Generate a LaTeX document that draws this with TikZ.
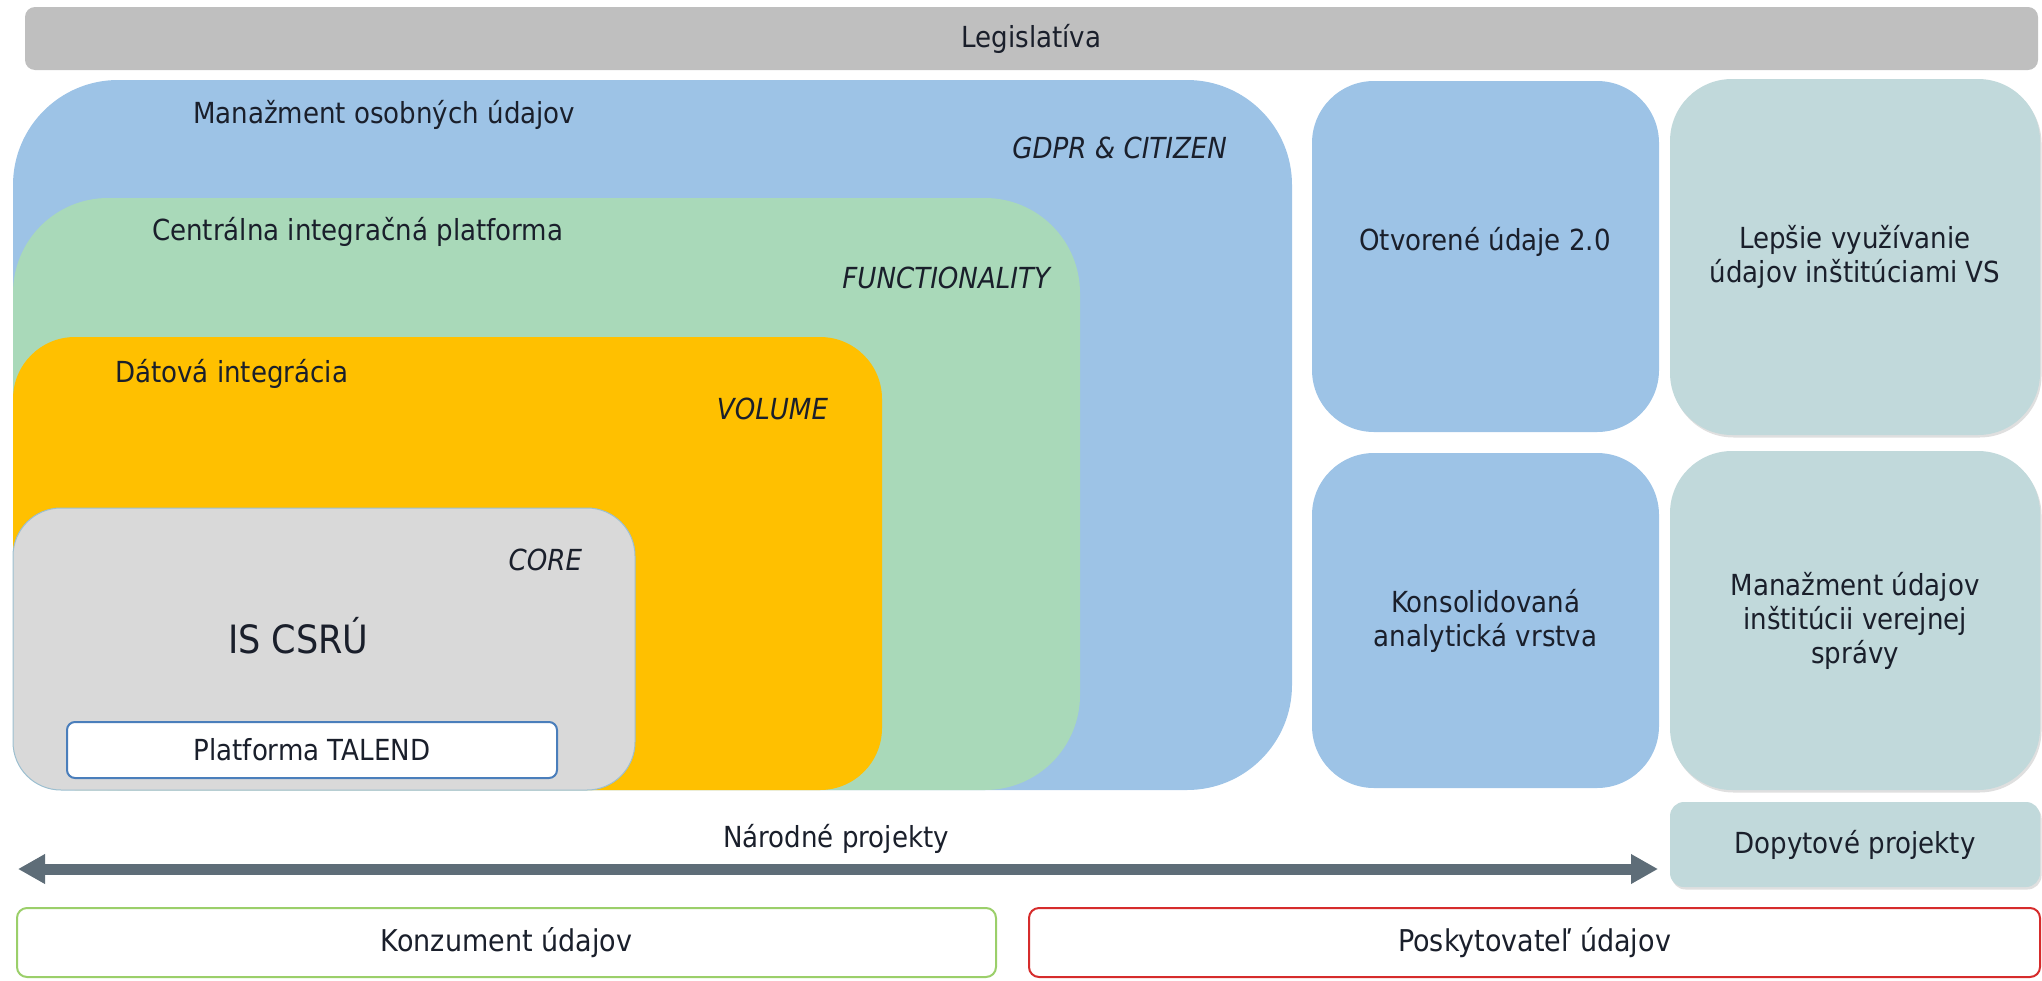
\documentclass[tikz,border=0pt]{standalone}
\usepackage{fontspec}
\setmainfont{DejaVu Sans}[FakeStretch=0.9]
\usepackage{tikz}
\definecolor{legisgray}{HTML}{BFBFBF}
\definecolor{layerblue}{HTML}{9DC3E6}
\definecolor{layergreen}{HTML}{A9D9B9}
\definecolor{layerorange}{HTML}{FFC000}
\definecolor{coregray}{HTML}{D9D9D9}
\definecolor{coreedge}{HTML}{9CBFD0}
\definecolor{talendblue}{HTML}{4A7EBB}
\definecolor{demandteal}{HTML}{C1D9DB}
\definecolor{arrowgray}{HTML}{5E6D78}
\definecolor{consgreen}{HTML}{9BCF6A}
\definecolor{provred}{HTML}{D62C2C}
\definecolor{textdark}{HTML}{1A1F2B}
\usetikzlibrary{arrows.meta, shadows}

\begin{document}
\begin{tikzpicture}[
  x=1pt, y=-1pt,
  every node/.style={inner sep=0pt, outer sep=0pt, text=textdark},
  lbl/.style={font=\fontsize{29}{34}\selectfont},
  title/.style={lbl, anchor=base west},
  tag/.style={font=\fontsize{29}{34}\selectfont\itshape, anchor=base east},
  layer/.style={rectangle, anchor=north west},
  tile/.style={layer, align=center, lbl},
  bluetile/.style={tile, fill=layerblue, rounded corners=62pt},
  tealtile/.style={tile, fill=demandteal, rounded corners=62pt,
    drop shadow={shadow xshift=1.5pt, shadow yshift=-2.5pt, opacity=0.25}},
  partner/.style={layer, fill=white, line width=2pt, rounded corners=10pt, font=\fontsize{30}{34}\selectfont},
  natarrow/.style={{Triangle[length=27pt,width=28pt]}-{Triangle[length=27pt,width=28pt]}, line width=11pt, draw=arrowgray},
]
\useasboundingbox (0,0) rectangle (2042,980);

% Top bar
\node[layer, fill=legisgray, rounded corners=10pt, minimum width=2013, minimum height=63, lbl] (legis) at (25,7) {Legislatíva};

% Nested layers of the national projects
\node[layer, fill=layerblue, rounded corners=105pt, minimum width=1279, minimum height=710] (osobne) at (13,80) {};
\node[layer, fill=layergreen, rounded corners=95pt, minimum width=1067, minimum height=592] (cip) at (13,198) {};
\node[layer, fill=layerorange, rounded corners=62pt, minimum width=869, minimum height=453] (datint) at (13,337) {};
\node[layer, fill=coregray, draw=coreedge, line width=1pt, rounded corners=48pt, minimum width=622, minimum height=282] (csru) at (13,508) {};

\node[title] (osobneT) at (193,123) {Manažment osobných údajov};
\node[tag] (gdprT) at (1227,158) {GDPR \& CITIZEN};
\node[title] (cipT) at (152,240) {Centrálna integračná platforma};
\node[tag] (funcT) at (1050,288) {FUNCTIONALITY};
\node[title] (datintT) at (115,382) {Dátová integrácia};
\node[tag] (volT) at (828,419) {VOLUME};
\node[tag] (coreT) at (582,570) {CORE};
\node[anchor=base west, font=\fontsize{39}{44}\selectfont] (csruT) at (228,653) {IS CSRÚ};
\node[layer, fill=white, draw=talendblue, line width=2pt, rounded corners=8pt, minimum width=490, minimum height=56, lbl] (talend) at (67,722) {Platforma TALEND};

% Right columns
\node[bluetile, minimum width=347, minimum height=351] (otv) at (1312,81) {};
\node[lbl, anchor=base] (otvT) at (1485,250) {Otvorené údaje 2.0};
\node[bluetile, minimum width=347, minimum height=335] (kons) at (1312,453) {Konsolidovaná\\analytická vrstva};
\node[tealtile, minimum width=370, minimum height=356] (lepsie) at (1670,79) {Lepšie využívanie\\údajov inštitúciami VS};
\node[tealtile, minimum width=370, minimum height=339] (manaz) at (1670,451) {Manažment údajov\\inštitúcii verejnej\\správy};
\node[tealtile, rounded corners=14pt, minimum width=370, minimum height=85] (dopyt) at (1670,802) {Dopytové projekty};

% National projects span
\coordinate (natL) at (18,869);
\coordinate (natR) at (1658,869);
\draw[natarrow] (natL) -- (natR);
\node[lbl, anchor=base] (narodneT) at (836,847) {Národné projekty};

% Bottom roles
\node[partner, draw=consgreen, minimum width=979, minimum height=69] (konz) at (17,908) {Konzument údajov};
\node[partner, draw=provred, minimum width=1011, minimum height=69] (posk) at (1029,908) {Poskytovateľ údajov};

\end{tikzpicture}
\end{document}
